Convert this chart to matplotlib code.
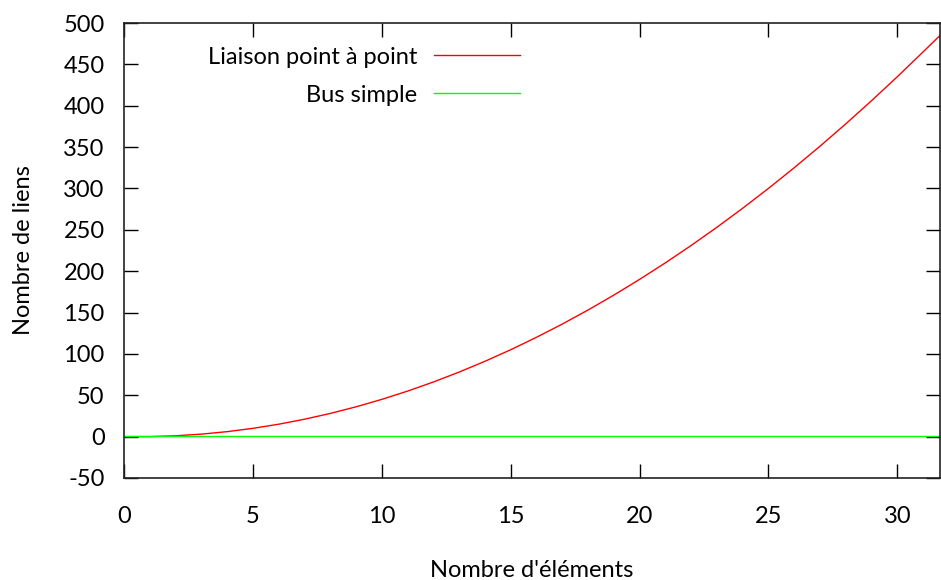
import matplotlib
matplotlib.use("Agg")
import matplotlib.pyplot as plt

# nombre d'elements et nombre de liens
elements = [0, 1, 2, 3, 4, 5, 6, 7, 8, 9, 10, 11, 12, 13, 14, 15, 16, 17, 18, 19, 20,
            21, 22, 23, 24, 25, 26, 27, 28, 29, 30, 31, 31.66]
liens_point_a_point = [0, 0, 1, 3, 6, 10, 15, 21, 28, 36, 45, 55, 66, 78, 91, 105, 120,
                       136, 153, 171, 190, 210, 231, 253, 276, 300, 325, 351, 378, 406,
                       435, 465, 485]
liens_bus = [1] * len(elements)

xticks = [0, 5, 10, 15, 20, 25, 30]
yticks = [-50, 0, 50, 100, 150, 200, 250, 300, 350, 400, 450, 500]

plt.rcParams['font.family'] = ['Lato', 'DejaVu Sans']
plt.rcParams['font.size'] = 17
plt.rcParams['axes.unicode_minus'] = False

fig = plt.figure(figsize=(9.41, 5.8), dpi=100)
ax = fig.add_axes([0.1318, 0.1759, 0.8672, 0.7844])

ax.plot(elements, liens_point_a_point, color='#ff0000', lw=1, label='Liaison point à point')
ax.plot(elements, liens_bus, color='#00ff00', lw=1, label='Bus simple')

ax.set_xlim(0, 31.66)
ax.set_ylim(-50, 500)
ax.set_xticks(xticks)
ax.set_yticks(yticks)
ax.tick_params(direction='in', length=10, width=1, top=True, right=True)
ax.tick_params(axis='x', pad=20)
ax.tick_params(axis='y', pad=14)
for s in ax.spines.values():
    s.set_linewidth(1.2)
    s.set_color('#222222')

ax.set_xlabel("Nombre d'éléments", labelpad=24)
ax.set_ylabel("Nombre de liens", labelpad=21)

ax.legend(loc='upper right', bbox_to_anchor=(0.4847, 0.948), frameon=False, markerfirst=False,
          borderpad=0, borderaxespad=0,
          handlelength=3.64, handletextpad=0.68, labelspacing=0.72)

fig.savefig('out.png', dpi=100)
